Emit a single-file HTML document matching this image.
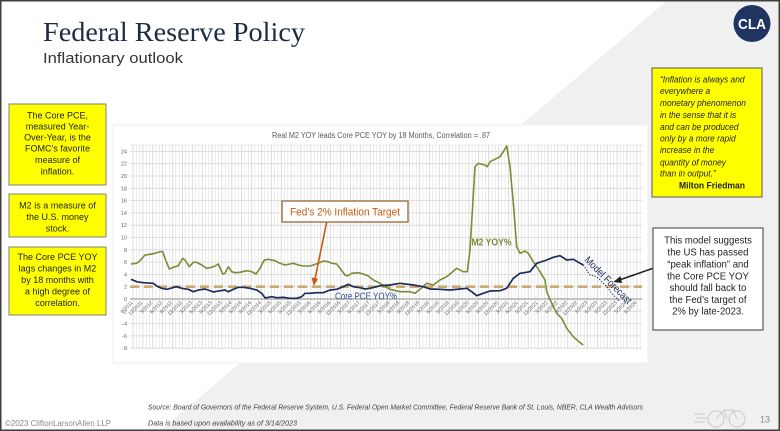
<!DOCTYPE html>
<html><head><meta charset="utf-8"><style>
html,body{margin:0;padding:0;background:#fff;}
svg{display:block;}
text{font-family:"Liberation Sans",sans-serif;}
</style></head><body>
<svg width="780" height="431" viewBox="0 0 780 431" xmlns="http://www.w3.org/2000/svg">
<rect x="0" y="0" width="780" height="431" fill="#fff"/>
<polygon points="668,0 780,0 780,431 160,431" fill="#f0f0f0"/>
<rect x="0.75" y="0.75" width="778.5" height="429.5" fill="none" stroke="#3f3f3f" stroke-width="1.5"/>

<!-- title -->
<text x="43" y="41" font-size="27" fill="#1f2a44" textLength="262" lengthAdjust="spacingAndGlyphs" style="font-family:'Liberation Serif',serif">Federal Reserve Policy</text>
<text x="43" y="63" font-size="15" fill="#333" textLength="140" lengthAdjust="spacingAndGlyphs">Inflationary outlook</text>

<!-- logo -->
<circle cx="752" cy="23.5" r="18.5" fill="#1f3460"/>
<text x="752" y="29" font-size="15" font-weight="bold" fill="#fff" text-anchor="middle" textLength="28" lengthAdjust="spacingAndGlyphs">CLA</text>

<!-- chart box -->
<rect x="113" y="125" width="535" height="238" fill="#fff" stroke="#ececec" stroke-width="1"/>
<text x="381" y="138" font-size="8" fill="#595959" text-anchor="middle" textLength="218" lengthAdjust="spacingAndGlyphs">Real M2 YOY leads Core PCE YOY by 18 Months, Correlation = .87</text>

<g id="grid"></g>

<!-- left boxes -->
<rect x="9" y="104" width="97" height="81" fill="#ffff00" stroke="#7f7f7f" stroke-width="1"/>
<g font-size="9.5" fill="#222" text-anchor="middle" transform="translate(57.5,0) scale(0.95,1) translate(-57.5,0)">
<text x="57.5" y="118.5">The Core PCE,</text>
<text x="57.5" y="129.5">measured Year-</text>
<text x="57.5" y="140.5">Over-Year, is the</text>
<text x="57.5" y="151.5">FOMC’s favorite</text>
<text x="57.5" y="163">measure of</text>
<text x="57.5" y="174.5">inflation.</text>
</g>
<rect x="9" y="194" width="97" height="43" fill="#ffff00" stroke="#7f7f7f" stroke-width="1"/>
<g font-size="9.5" fill="#222" text-anchor="middle" transform="translate(57.5,0) scale(0.95,1) translate(-57.5,0)">
<text x="57.5" y="208.5">M2 is a measure of</text>
<text x="57.5" y="220">the U.S. money</text>
<text x="57.5" y="231.5">stock.</text>
</g>
<rect x="9" y="247" width="97" height="68" fill="#ffff00" stroke="#7f7f7f" stroke-width="1"/>
<g font-size="9.5" fill="#222" text-anchor="middle" transform="translate(57.5,0) scale(0.95,1) translate(-57.5,0)">
<text x="57.5" y="260">The Core PCE YOY</text>
<text x="57.5" y="271.5">lags changes in M2</text>
<text x="57.5" y="283">by 18 months with</text>
<text x="57.5" y="294.5">a high degree of</text>
<text x="57.5" y="306">correlation.</text>
</g>

<!-- quote box -->
<rect x="652" y="68" width="110" height="129" fill="#ffff00" stroke="#595959" stroke-width="1"/>
<g font-size="9.3" fill="#222" font-style="italic" transform="translate(660,0) scale(0.9,1) translate(-660,0)">
<text x="660" y="82.5">“Inflation is always and</text>
<text x="660" y="94">everywhere a</text>
<text x="660" y="106">monetary phenomenon</text>
<text x="660" y="118">in the sense that it is</text>
<text x="660" y="130">and can be produced</text>
<text x="660" y="141.5">only by a more rapid</text>
<text x="660" y="153">increase in the</text>
<text x="660" y="165.5">quantity of money</text>
<text x="660" y="176.5">than in output.”</text>
</g>
<text x="712" y="188.5" font-size="9.3" font-weight="bold" fill="#222" text-anchor="middle" transform="translate(712,0) scale(0.92,1) translate(-712,0)">Milton Friedman</text>

<!-- callout right -->
<rect x="653" y="228" width="110" height="102" fill="#fff" stroke="#595959" stroke-width="1.2"/>
<g font-size="10.3" fill="#222" text-anchor="middle" transform="translate(708,0) scale(0.93,1) translate(-708,0)">
<text x="708" y="243.5">This model suggests</text>
<text x="708" y="255.5">the US has passed</text>
<text x="708" y="267.5">“peak inflation” and</text>
<text x="708" y="279.5">the Core PCE YOY</text>
<text x="708" y="291">should fall back to</text>
<text x="708" y="303">the Fed’s target of</text>
<text x="708" y="314.5">2% by late-2023.</text>
</g>

<!-- footer -->
<text x="148" y="409.5" font-size="7" font-style="italic" fill="#404040" textLength="495" lengthAdjust="spacingAndGlyphs">Source: Board of Governors of the Federal Reserve System, U.S. Federal Open Market Committee, Federal Reserve Bank of St. Louis, NBER, CLA Wealth Advisors</text>
<text x="148" y="425.5" font-size="7" font-style="italic" fill="#404040" textLength="149" lengthAdjust="spacingAndGlyphs">Data is based upon availability as of 3/14/2023</text>
<text x="5" y="426" font-size="8" fill="#8a8a8a" textLength="106" lengthAdjust="spacingAndGlyphs">©2023 CliftonLarsonAllen LLP</text>
<text x="760" y="422.5" font-size="9" fill="#8a8a8a">13</text>
<g stroke="#cfcfcf" stroke-width="1.2" fill="none">
<line x1="694" y1="414" x2="705" y2="414"/><line x1="696" y1="418" x2="707" y2="418"/><line x1="694" y1="422" x2="705" y2="422"/>
<circle cx="716" cy="419" r="8"/><circle cx="737" cy="419" r="8"/>
<polyline points="716,419 724,410 733,410 737,419"/><line x1="724" y1="410" x2="727" y2="419"/>
</g>
</svg>
<script>
(function(){
var NS="http://www.w3.org/2000/svg";
var g=document.getElementById("grid");
function el(n,a,t){var e=document.createElementNS(NS,n);for(var k in a)e.setAttribute(k,a[k]);if(t!==undefined)e.textContent=t;g.appendChild(e);return e;}
var X0=130,X1=642,Y0=299,S=6.15;
var q=9.88, m=q/3;
for(var i=0;;i++){var x=133+(i-1)*m; if(x>X1)break; if(x<X0)continue;
 el("line",{x1:x,y1:145,x2:x,y2:348,stroke:(i%3==1)?"#cfcfcf":"#e3e3e3","stroke-width":0.7});}
for(var v=-8;v<=24;v+=2){var y=Y0-v*S;
 el("line",{x1:X0,y1:y,x2:X1,y2:y,stroke:v==0?"#8c8c8c":"#d6d6d6","stroke-width":v==0?1:0.8});
 el("text",{x:127,y:y+2,"font-size":5.5,fill:"#666","text-anchor":"end"},String(v));}
el("line",{x1:X0,y1:145,x2:X1,y2:145,stroke:"#e0e0e0","stroke-width":0.7});
var yr=2011, mo=9;
for(var i=0;i<52;i++){var x=133+i*q;
 el("text",{x:0,y:0,"font-size":5,fill:"#666","text-anchor":"end",transform:"translate("+x+",303) rotate(-45)"},mo+"/"+yr);
 mo+=3; if(mo>12){mo-=12;yr++;}}
el("line",{x1:X0,y1:286.7,x2:X1,y2:286.7,stroke:"#c9ab70","stroke-width":2.6,"stroke-dasharray":"9,5"});
var m2="131,264 136.7,263.3 140,260.7 145,255 150,254.3 155,253.3 160,251.7 162.7,251.7 165,258.3 169.3,269 173.3,267.3 178.3,265.7 182.7,258.3 185,260 189.3,266.7 193.3,262.3 196.7,262.3 201.7,265 206.7,268.3 211.7,267.3 215,266 218.3,264 222.7,274 225,273.3 228.3,266.7 231.7,271.7 235,272.7 240,272.3 246.7,270.7 251.7,271.7 256,274 260,268.3 264.3,260 268.3,259.3 275,260.7 280,263.3 285,265 290,264 293.3,263.3 298.3,265 303.3,266 310,266 313.3,265 318.3,263.3 323.3,261 328.3,261.7 331.7,263.3 336.7,264 340,268.3 345,275 347.3,276 351.7,273.3 358.3,272.7 363.3,274 368.3,276 373.3,280 378.3,282.3 380,283.3 390,289.3 400,291.7 410,291.7 415,293.3 420,289.3 426.7,283.3 433.3,285 440,280 446.7,276.7 456.7,268.3 463.3,271.7 467.3,271.7 470,250 475,166.7 478.3,163.3 485,165 487.3,166.7 490,161.7 495,159.3 500,156.7 503.3,151.7 506.7,146 510,166.7 513.3,203 516.7,246.7 520,253.3 525,251 528.3,253.3 533.3,261.7 540,271.7 545,280 546.7,291.7 551.7,303.3 556.7,313.3 561.7,318.3 566.7,328.3 573.3,336.7 580,342.7 583.3,345";
el("polyline",{points:m2,fill:"none",stroke:"#7a8c36","stroke-width":1.6,"stroke-linejoin":"round"});
var pce="131,279.3 136.7,281.7 143.3,282.7 153.3,283.3 156.7,286 161.7,288.3 166.7,289.3 176.7,286.7 181.7,288.3 188.3,289.3 193.3,291.7 198.3,290 205,289 210,290.7 213.3,292 216.7,291.3 225,290 228.3,291.7 233.3,289.3 238.3,287.3 243.3,287.3 250,288.3 256.7,290 261.7,293.3 265,297.7 266.7,297.7 271.7,296.7 276.7,297.7 283.3,297.3 290,298.3 296.7,298.3 301.7,296.7 305,293.3 310,293.3 316.7,292.7 323.3,292.7 330,290 336.7,289.3 343.3,286.7 348.3,284.3 353.3,286.7 360,287.7 365,289 370,288.3 376.7,286.7 380,285.7 390,285 400,283.3 413.3,285 423.3,286.7 430,289 440,289.3 450,290 460,289 466.7,288.3 471.7,291.7 476.7,295.7 483.3,293.3 490,291 500,290.7 506.7,288.3 513.3,278.3 520,273.3 530,271.7 536.7,263.3 546.7,260 553.3,257.3 560,255.7 566.7,260 573.3,259.3 580,263.3 583.3,265";
el("polyline",{points:pce,fill:"none",stroke:"#1c2c5c","stroke-width":1.7,"stroke-linejoin":"round"});
el("polyline",{points:"583.3,265 590,275 596.7,276.7 606.7,286.7 613.3,295 620,301.7",fill:"none",stroke:"#1c2c5c","stroke-width":1.1,"stroke-dasharray":"1.2,1.6"});
el("text",{x:335,y:299.5,"font-size":10,fill:"#2e4a86",textLength:62,lengthAdjust:"spacingAndGlyphs"},"Core PCE YOY%");
el("text",{x:471.5,y:245.3,"font-size":10,"font-weight":"bold",fill:"#7a8c36",textLength:40,lengthAdjust:"spacingAndGlyphs"},"M2 YOY%");
el("text",{x:0,y:0,"font-size":10,fill:"#1c2c5c",transform:"translate(584,260.5) rotate(45)",textLength:62,lengthAdjust:"spacingAndGlyphs"},"Model Forecast");
el("rect",{x:282,y:201,width:126,height:21,fill:"#fff",stroke:"#a57a50","stroke-width":1.5});
el("text",{x:345,y:215.5,"font-size":11,fill:"#c55a11","text-anchor":"middle",textLength:110,lengthAdjust:"spacingAndGlyphs"},"Fed’s 2% Inflation Target");
el("line",{x1:326.7,y1:222,x2:315,y2:279,stroke:"#c55a11","stroke-width":1.6});
el("polygon",{points:"313.8,286 311.5,277.5 318,278.8",fill:"#c55a11"});
el("line",{x1:653,y1:268.3,x2:620,y2:279.8,stroke:"#222","stroke-width":1.6});
el("polygon",{points:"613.3,282 620.5,276 622,283",fill:"#222"});
})();
</script>
</body></html>
